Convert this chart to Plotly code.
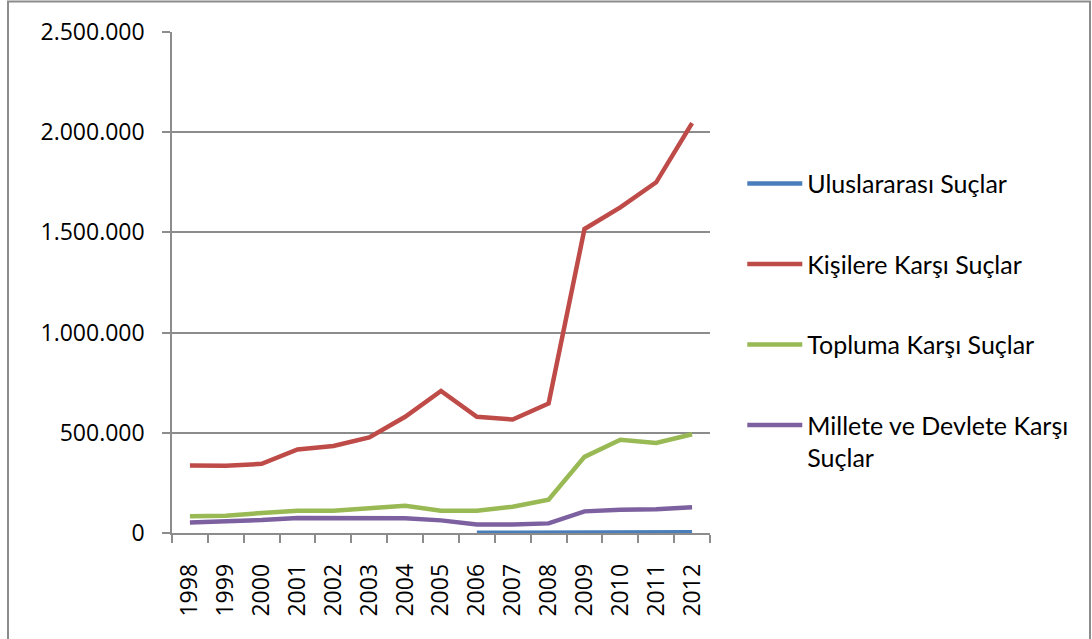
import plotly.graph_objects as go

years = [str(y) for y in range(1998, 2013)]
uluslararasi = [None]*8 + [1000, 1500, 2000, 5000, 4000, 3500, 3500]
kisilere = [337000, 336000, 345000, 417000, 434000, 477000, 580000, 709000,
            580000, 566000, 646000, 1517000, 1625000, 1750000, 2045000]
topluma = [83000, 86000, 100000, 111000, 111000, 123000, 136000, 111000,
           111000, 131000, 166000, 380000, 465000, 449000, 493000]
millete = [53000, 58000, 65000, 75000, 76000, 73000, 73000, 63000,
           43000, 42000, 48000, 108000, 116000, 118000, 128000]

series = [
    ("Uluslararası Suçlar", uluslararasi, "#4a7ebb"),
    ("Kişilere Karşı Suçlar", kisilere, "#be4b48"),
    ("Topluma Karşı Suçlar", topluma, "#98b954"),
    ("Millete ve Devlete Karşı<br>Suçlar", millete, "#7d60a0"),
]

fig = go.Figure()
for i, (name, vals, col) in enumerate(series):
    fig.add_trace(go.Scatter(x=years, y=vals, name=name, mode="lines",
                             line=dict(color=col, width=4.5),
                             legendgroup=f"g{i}", connectgaps=False))

grid = "#8c8c8c"
fig.update_layout(
    width=1092, height=639,
    margin=dict(l=172, r=382, t=32, b=106, autoexpand=False),
    paper_bgcolor="white", plot_bgcolor="white",
    separators=",.",
    showlegend=True,
    legend=dict(x=1.060, y=0.743, xanchor="left", yanchor="top",
                font=dict(family="Lato", size=25, color="#000"),
                tracegroupgap=45, valign="top", itemwidth=55,
                bgcolor="rgba(0,0,0,0)"),
    xaxis=dict(type="category", range=[-0.5, 14.5], automargin=False,
               showgrid=False, showline=True, linecolor=grid,
               linewidth=1.5, ticks="outside", tickson="boundaries", ticklen=8,
               tickcolor=grid, tickwidth=1.5, tickangle=-90,
               tickfont=dict(family="Open Sans", size=23, color="#000"),
               ticklabelstandoff=20),
    yaxis=dict(range=[0, 2500000], automargin=False,
               tickvals=[0, 500000, 1000000, 1500000, 2000000, 2500000],
               tickformat=",d", showgrid=True, gridcolor=grid, gridwidth=1.5,
               showline=True, linecolor=grid, linewidth=1.5, ticks="outside",
               ticklen=8, tickcolor=grid, tickwidth=1.5, zeroline=False,
               tickfont=dict(family="Open Sans", size=23, color="#000"),
               ticklabelstandoff=13),
)
fig.add_shape(type="rect", xref="paper", yref="paper",
              x0=(8-172)/538, x1=(1090-172)/538, y0=(533-650)/501, y1=(533-1.5)/501,
              line=dict(color="#8c8c8c", width=2), fillcolor="rgba(0,0,0,0)")
fig.write_html("out.html", config={"displayModeBar": False},
               post_script="document.body.style.margin='0';document.body.style.overflow='hidden';")
